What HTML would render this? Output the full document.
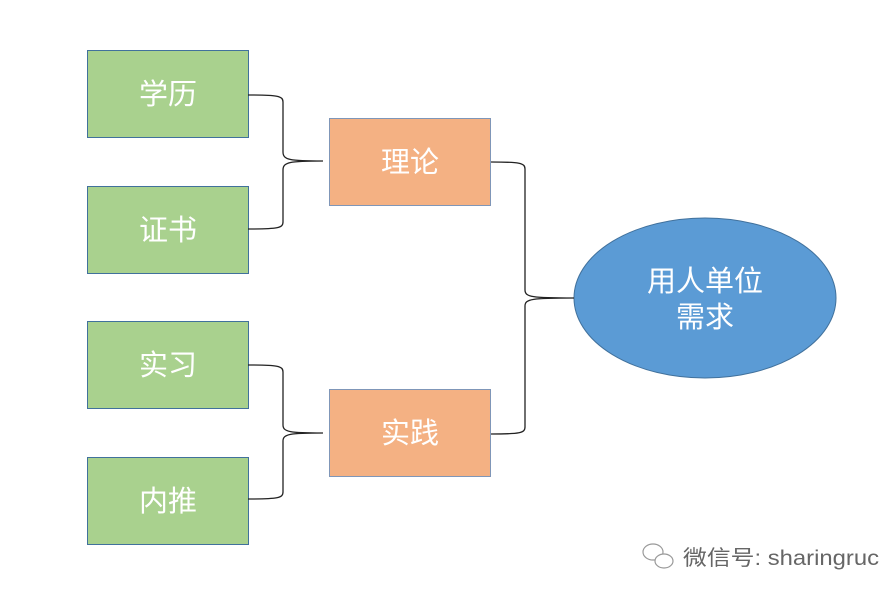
<!DOCTYPE html>
<html><head><meta charset="utf-8"><style>
body{margin:0;background:#fff;}
svg text{font-family:"Liberation Sans","Noto Sans CJK SC",sans-serif;}
</style></head><body>
<svg width="895" height="595" viewBox="0 0 895 595" xmlns="http://www.w3.org/2000/svg">
<g stroke="#41719c" stroke-width="1" fill="#a9d18e">
<rect x="87.5" y="50.5" width="161" height="87"/>
<rect x="87.5" y="186.5" width="161" height="87"/>
<rect x="87.5" y="321.5" width="161" height="87"/>
<rect x="87.5" y="457.5" width="161" height="87"/>
</g>
<g stroke="#7f96b8" stroke-width="1" fill="#f4b183">
<rect x="329.5" y="118.5" width="161" height="87"/>
<rect x="329.5" y="389.5" width="161" height="87"/>
</g>
<ellipse cx="705" cy="298" rx="131" ry="80" fill="#5b9bd5" stroke="#41719c" stroke-width="1"/>
<g fill="none" stroke="#222" stroke-width="1.3">
<path d="M248 95 C278 95 283 96 283 102 L283 152 C283 160 290 161 323 161 M283 170 C283 162 290 161 323 161 M283 170 L283 222 C283 228 278 229 248 229"/>
<path d="M248 365 C278 365 283 366 283 372 L283 425 C283 432 290 433 323 433 M283 441 C283 434 290 433 323 433 M283 441 L283 492 C283 498 278 499 248 499"/>
<path d="M491 162 C520 162 525 163 525 169 L525 290 C525 297 532 298 574 298 M525 306 C525 299 532 298 574 298 M525 306 L525 427 C525 433 520 434 491 434"/>
</g>
<g fill="#fff" font-size="29" text-anchor="middle">
<text x="168" y="104">学历</text>
<text x="168" y="240">证书</text>
<text x="168" y="375">实习</text>
<text x="168" y="511">内推</text>
<text x="410" y="172">理论</text>
<text x="410" y="443">实践</text>
<text x="705" y="291">用人单位</text>
<text x="705" y="327">需求</text>
</g>
<g fill="none" stroke="#999" stroke-width="1.2">
<ellipse cx="653" cy="552" rx="10" ry="8"/>
<ellipse cx="664" cy="561" rx="9" ry="7" fill="#fff"/>
</g>
<text x="683" y="565" font-size="21" fill="#666" textLength="196" lengthAdjust="spacingAndGlyphs">微信号: sharingruc</text>
</svg>
</body></html>
